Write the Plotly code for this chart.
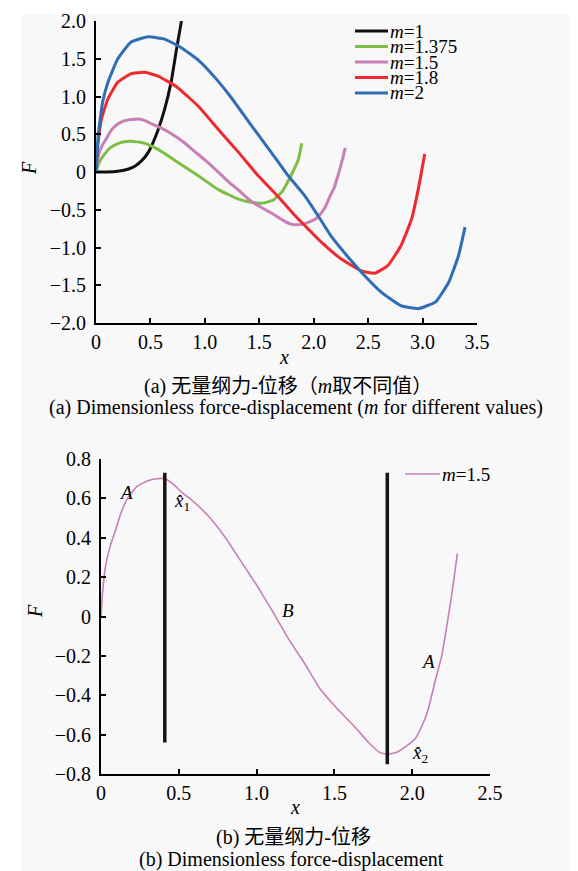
import plotly.graph_objects as go

W, H = 578, 871
def PX(px): return px / W
def PY(py): return 1 - py / H

# ---------------- data ----------------
m_labels = ["1", "1.375", "1.5", "1.8", "2"]
m_colors = ["#111111", "#7dbf45", "#c77fb6", "#ee2a2e", "#2f6db5"]

x_m1 = [0, 0.10, 0.20, 0.30, 0.36, 0.42, 0.48, 0.55, 0.63, 0.69, 0.74, 0.785]
F_m1 = [0, 0.00, 0.01, 0.04, 0.08, 0.15, 0.26, 0.48, 0.83, 1.19, 1.63, 2.00]

x_m1375 = [0, 0.03, 0.08, 0.13, 0.19, 0.26, 0.34, 0.42, 0.50, 0.57, 0.75, 0.94, 1.12, 1.31, 1.44, 1.54, 1.63, 1.71, 1.79, 1.86, 1.89]
F_m1375 = [0, 0.13, 0.24, 0.32, 0.37, 0.40, 0.405, 0.39, 0.35, 0.30, 0.13, -0.05, -0.23, -0.36, -0.405, -0.41, -0.37, -0.26, -0.05, 0.17, 0.38]

x_m15 = [0, 0.01, 0.03, 0.06, 0.09, 0.13, 0.17, 0.23, 0.30, 0.36, 0.41, 0.46, 0.52, 0.60, 0.69, 0.80, 0.90, 1.00,
         1.10, 1.21, 1.31, 1.41, 1.52, 1.63, 1.72, 1.79, 1.84, 1.90, 1.96, 2.02, 2.06, 2.10, 2.15, 2.19, 2.22, 2.25, 2.27, 2.29]
F_m15 = [0, 0.12, 0.26, 0.36, 0.43, 0.53, 0.60, 0.66, 0.69, 0.70, 0.70, 0.675, 0.63, 0.58, 0.51, 0.40, 0.28, 0.16,
         0.03, -0.12, -0.24, -0.37, -0.47, -0.56, -0.64, -0.69, -0.70, -0.69, -0.66, -0.62, -0.56, -0.48, -0.32, -0.20, -0.06, 0.09, 0.20, 0.32]

x_m18 = [0, 0.01, 0.02, 0.05, 0.11, 0.20, 0.32, 0.45, 0.57, 0.74, 0.94, 1.12, 1.31, 1.49, 1.67, 1.83, 1.98, 2.07,
         2.25, 2.44, 2.56, 2.68, 2.80, 2.90, 2.96, 3.02]
F_m18 = [0, 0.22, 0.40, 0.70, 0.97, 1.19, 1.30, 1.32, 1.27, 1.13, 0.87, 0.57, 0.26, -0.05, -0.32, -0.58, -0.80, -0.93,
         -1.15, -1.31, -1.34, -1.24, -0.98, -0.62, -0.23, 0.24]

x_m2 = [0, 0.01, 0.02, 0.06, 0.11, 0.20, 0.32, 0.48, 0.63, 0.78, 0.95, 1.10, 1.24, 1.42, 1.61, 1.76, 1.92, 2.04,
        2.16, 2.30, 2.44, 2.62, 2.80, 2.96, 3.12, 3.24, 3.33, 3.39]
F_m2 = [0, 0.25, 0.48, 0.92, 1.19, 1.50, 1.72, 1.79, 1.76, 1.65, 1.47, 1.24, 0.99, 0.63, 0.26, -0.04, -0.32, -0.58,
        -0.85, -1.10, -1.33, -1.59, -1.77, -1.81, -1.72, -1.46, -1.11, -0.73]

series_x = [x_m1, x_m1375, x_m15, x_m18, x_m2]
series_F = [F_m1, F_m1375, F_m15, F_m18, F_m2]

# (b) markers: vertical lines at x^1 and x^2
vline_x = [0.41, 1.84]
vline_top = [0.73, 0.73]
vline_bottom = [-0.64, -0.75]

top_xticks = [0, 0.5, 1.0, 1.5, 2.0, 2.5, 3.0, 3.5]
top_xtext = ["0", "0.5", "1.0", "1.5", "2.0", "2.5", "3.0", "3.5"]
top_yticks = [2.0, 1.5, 1.0, 0.5, 0, -0.5, -1.0, -1.5, -2.0]
top_ytext = ["2.0", "1.5", "1.0", "0.5", "0", "\u22120.5", "\u22121.0", "\u22121.5", "\u22122.0"]
bot_xticks = [0, 0.5, 1.0, 1.5, 2.0, 2.5]
bot_xtext = ["0", "0.5", "1.0", "1.5", "2.0", "2.5"]
bot_yticks = [0.8, 0.6, 0.4, 0.2, 0, -0.2, -0.4, -0.6, -0.8]
bot_ytext = ["0.8", "0.6", "0.4", "0.2", "0", "\u22120.2", "\u22120.4", "\u22120.6", "\u22120.8"]

# ---------------- figure ----------------
SERIF = "Liberation Serif"
CJK = "Liberation Serif, Noto Sans CJK SC"
fig = go.Figure()

for xs, Fs, lab, col in zip(series_x, series_F, m_labels, m_colors):
    fig.add_trace(go.Scatter(x=xs, y=Fs, mode="lines", name="m=" + lab,
                             line=dict(color=col, width=3, shape="spline", smoothing=0.4),
                             xaxis="x", yaxis="y", showlegend=False))

fig.add_trace(go.Scatter(x=x_m15, y=F_m15, mode="lines", name="m=1.5",
                         line=dict(color="#c77fb6", width=1.6, shape="spline", smoothing=0.4),
                         xaxis="x2", yaxis="y2", showlegend=False))
for vx, vt, vb in zip(vline_x, vline_top, vline_bottom):
    fig.add_trace(go.Scatter(x=[vx, vx], y=[vb, vt], mode="lines",
                             line=dict(color="#151515", width=3.5),
                             xaxis="x2", yaxis="y2", showlegend=False))

axis_common = dict(showline=True, linecolor="black", linewidth=2, ticks="inside", ticklen=5,
                   tickwidth=1.5, tickcolor="black", showgrid=False, zeroline=False,
                   tickfont=dict(family=SERIF, size=20, color="black"), automargin=False)

fig.update_layout(
    width=W, height=H, margin=dict(l=0, r=0, t=0, b=0),
    paper_bgcolor="white", plot_bgcolor="rgba(0,0,0,0)",
    font=dict(family=SERIF, color="black"),
    xaxis=dict(domain=[PX(88), PX(469)], range=[0, 3.5], tickvals=top_xticks, ticktext=top_xtext,
               anchor="y", **axis_common),
    yaxis=dict(domain=[PY(315), PY(13)], range=[-2, 2], tickvals=top_yticks, ticktext=top_ytext,
               anchor="x", ticklabelstandoff=4, **axis_common),
    xaxis2=dict(domain=[PX(93), PX(482)], range=[0, 2.5], tickvals=bot_xticks, ticktext=bot_xtext,
                anchor="y2", **axis_common),
    yaxis2=dict(domain=[PY(766), PY(451)], range=[-0.8, 0.8], tickvals=bot_yticks, ticktext=bot_ytext,
                anchor="x2", ticklabelstandoff=4, **axis_common),
    showlegend=False,
)

shapes = [dict(type="rect", xref="paper", yref="paper", x0=PX(13), x1=PX(563), y0=PY(871), y1=PY(7),
               fillcolor="#f8f8f8", line=dict(width=0), layer="below")]
ann = []

# custom legend (a)
leg_rows = [23, 38.5, 54, 69.5, 85]
for py, lab, col in zip(leg_rows, m_labels, m_colors):
    shapes.append(dict(type="line", xref="paper", yref="paper", x0=PX(347), x1=PX(380), y0=PY(py), y1=PY(py),
                       line=dict(color=col, width=3)))
    ann.append(dict(xref="paper", yref="paper", x=PX(380), y=PY(py), xanchor="left", yanchor="middle",
                    text="<i>m</i>=" + lab, showarrow=False, font=dict(family=SERIF, size=19, color="black")))
# legend (b)
shapes.append(dict(type="line", xref="paper", yref="paper", x0=PX(397), x1=PX(432), y0=PY(466), y1=PY(466),
                   line=dict(color="#c77fb6", width=1.6)))
ann.append(dict(xref="paper", yref="paper", x=PX(432), y=PY(466), xanchor="left", yanchor="middle",
                text="<i>m</i>=1.5", showarrow=False, font=dict(family=SERIF, size=19, color="black")))

# axis titles
def title(px, py, text, angle=0, size=20):
    ann.append(dict(xref="paper", yref="paper", x=PX(px), y=PY(py), xanchor="center", yanchor="middle",
                    text=text, textangle=angle, showarrow=False,
                    font=dict(family=SERIF, size=size, color="black")))
title(21, 160, "<i>F</i>", -90)
title(276, 349, "<i>x</i>")
title(27, 603, "<i>F</i>", -90)
title(287, 799, "<i>x</i>")

# captions
def cap(px, py, text, size, fam=CJK):
    ann.append(dict(xref="paper", yref="paper", x=PX(px), y=PY(py), xanchor="center", yanchor="middle",
                    text=text, showarrow=False, font=dict(family=fam, size=size, color="black")))
cap(280, 378, "(a) 无量纲力-位移（<i>m</i>取不同值）", 20)
cap(288, 400, "(a) Dimensionless force-displacement (<i>m</i> for different values)", 20, fam=SERIF)
cap(285, 829, "(b) 无量纲力-位移", 20)
cap(283, 851, "(b) Dimensionless force-displacement", 20, fam=SERIF)

# (b) region labels
def dlab(x, y, text, size=19):
    ann.append(dict(xref="x2", yref="y2", x=x, y=y, text=text, showarrow=False, xanchor="center",
                    yanchor="middle", font=dict(family=SERIF, size=size, color="black")))
dlab(0.16, 0.63, "<i>A</i>")
dlab(1.20, 0.03, "<i>B</i>")
dlab(2.10, -0.23, "<i>A</i>")
dlab(0.52, 0.58, "<i>x\u0302</i><sub>1</sub>")
dlab(2.05, -0.70, "<i>x\u0302</i><sub>2</sub>")

fig.update_layout(shapes=shapes, annotations=ann)
fig.write_html("out.html")
